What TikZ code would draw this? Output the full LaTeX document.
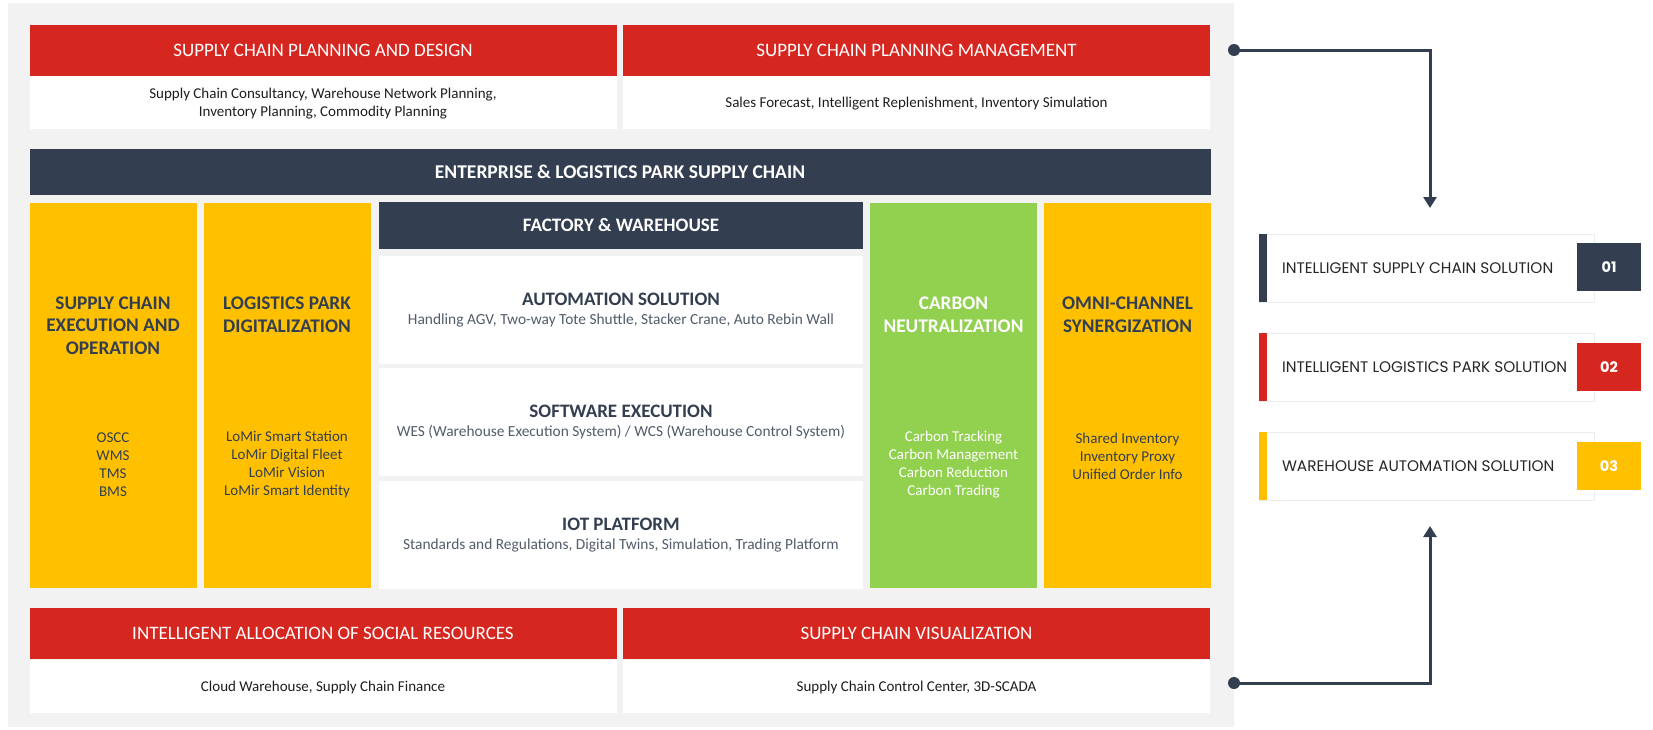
\documentclass[tikz,border=0pt]{standalone}
\usepackage{fontspec}
\setmainfont{Carlito}
\newfontfamily\tagfont{Poppins}
\usepackage{tikz}
\usetikzlibrary{shapes, arrows.meta, positioning}

\definecolor{scRed}{HTML}{D52620}
\definecolor{scDark}{HTML}{333F50}
\definecolor{scYellow}{HTML}{FFC000}
\definecolor{scGreen}{HTML}{92D050}
\definecolor{scGray}{HTML}{F2F2F2}
\definecolor{scText}{HTML}{1E1E1E}

\tikzstyle{box} = [rectangle, inner sep=0pt, outer sep=0pt, align=center]
\tikzstyle{head} = [box, fill=scRed, text=white, minimum width=587pt, minimum height=51pt, font=\fontsize{19}{22}\selectfont]
\tikzstyle{body} = [box, fill=white, text=scText, minimum width=587pt, minimum height=53pt, text depth=0pt, font=\fontsize{15}{18}\selectfont]
\tikzstyle{band} = [box, fill=scDark, text=white, font=\bfseries\fontsize{19.5}{22}\selectfont]
\tikzstyle{column} = [box, fill=scYellow, minimum width=167pt, minimum height=385pt]
\tikzstyle{coltitle} = [box, text=scDark, font=\bfseries\fontsize{19.3}{22.5}\selectfont]
\tikzstyle{colitems} = [box, text=scDark, font=\fontsize{15}{18}\selectfont]
\tikzstyle{layer} = [box, fill=white, minimum width=484pt, minimum height=108pt, text=scDark]
\tikzstyle{tag} = [box, fill=white, draw=black!7, line width=1pt, minimum width=335pt, minimum height=68pt]
\tikzstyle{tagtext} = [box, text=black!85, font=\tagfont\fontsize{15.3}{18}\selectfont]
\tikzstyle{num} = [box, text=white, minimum width=64pt, minimum height=48pt, font=\tagfont\bfseries\fontsize{14.5}{16}\selectfont]
\tikzstyle{link} = [draw=scDark, line width=3pt, -{Triangle[length=11pt, width=13pt]}]

\newcommand{\ltitle}[1]{{\bfseries\fontsize{19}{20}\selectfont #1}}
\newcommand{\lsub}[1]{{\color{scDark!85}\fontsize{15.4}{18}\selectfont #1}}

\begin{document}
\begin{tikzpicture}[x=1pt, y=-1pt]
  \useasboundingbox (0,0) rectangle (1653,729);
  \node[box, fill=scGray, minimum width=1226pt, minimum height=724pt] (panel) at (621,365) {};

  % planning
  \node[head] (plan) at (323,50.5) {SUPPLY CHAIN PLANNING AND DESIGN};
  \node[body] (plantxt) at (323,102) {Supply Chain Consultancy, Warehouse Network Planning,\\Inventory Planning, Commodity Planning};
  \node[head] (mgmt) at (916.5,50.5) {SUPPLY CHAIN PLANNING MANAGEMENT};
  \node[body] (mgmttxt) at (916.5,102) {Sales Forecast, Intelligent Replenishment, Inventory Simulation};

  % enterprise
  \node[band, minimum width=1181pt, minimum height=46pt] (ent) at (620,172) {ENTERPRISE \& LOGISTICS PARK SUPPLY CHAIN};

  % columns
  \node[column] (exec) at (113,395.5) {};
  \node[coltitle] (exect) at (113,325.5) {SUPPLY CHAIN\\EXECUTION AND\\OPERATION};
  \node[colitems] (execi) at (113,465) {OSCC\\WMS\\TMS\\BMS};

  \node[column] (park) at (287,395.5) {};
  \node[coltitle] (parkt) at (287,314.5) {LOGISTICS PARK\\DIGITALIZATION};
  \node[colitems] (parki) at (287,465) {LoMir Smart Station\\LoMir Digital Fleet\\LoMir Vision\\LoMir Smart Identity};

  \node[column, fill=scGreen] (carbon) at (953.5,395.5) {};
  \node[coltitle, text=white] (carbont) at (953.5,314.5) {CARBON\\NEUTRALIZATION};
  \node[colitems, text=white] (carboni) at (953.5,465) {Carbon Tracking\\Carbon Management\\Carbon Reduction\\Carbon Trading};

  \node[column] (omni) at (1127.5,395.5) {};
  \node[coltitle] (omnit) at (1127.5,314.5) {OMNI-CHANNEL\\SYNERGIZATION};
  \node[colitems] (omnii) at (1127.5,456) {Shared Inventory\\Inventory Proxy\\Unified Order Info};

  % factory
  \node[band, minimum width=484pt, minimum height=47pt, font=\bfseries\fontsize{19}{22}\selectfont] (fact) at (621,225.5) {FACTORY \& WAREHOUSE};
  \node[layer] (auto) at (621,310) {\ltitle{AUTOMATION SOLUTION}\\[6.5pt]\lsub{Handling AGV, Two-way Tote Shuttle, Stacker Crane, Auto Rebin Wall}};
  \node[layer] (soft) at (621,422) {\ltitle{SOFTWARE EXECUTION}\\[6.5pt]\lsub{WES (Warehouse Execution System) / WCS (Warehouse Control System)}};
  \node[layer] (iot) at (621,535) {\ltitle{IOT PLATFORM}\\[6.5pt]\lsub{Standards and Regulations, Digital Twins, Simulation, Trading Platform}};

  % resources
  \node[head] (alloc) at (323,633.5) {INTELLIGENT ALLOCATION OF SOCIAL RESOURCES};
  \node[body] (alloctxt) at (323,686) {Cloud Warehouse, Supply Chain Finance};
  \node[head] (vis) at (916.5,633.5) {SUPPLY CHAIN VISUALIZATION};
  \node[body] (vistxt) at (916.5,686) {Supply Chain Control Center, 3D-SCADA};

  % solutions
  \node[tag] (tag1) at (1426.5,268) {};
  \node[tag] (tag2) at (1426.5,367) {};
  \node[tag] (tag3) at (1426.5,466) {};
  \fill[scDark] (tag1.north west) rectangle ([xshift=8pt]tag1.south west);
  \fill[scRed] (tag2.north west) rectangle ([xshift=8pt]tag2.south west);
  \fill[scYellow] (tag3.north west) rectangle ([xshift=8pt]tag3.south west);
  \node[tagtext, anchor=west] (tag1txt) at (1282,268) {INTELLIGENT SUPPLY CHAIN SOLUTION};
  \node[tagtext, anchor=west] (tag2txt) at (1282,367) {INTELLIGENT LOGISTICS PARK SOLUTION};
  \node[tagtext, anchor=west] (tag3txt) at (1282,466) {WAREHOUSE AUTOMATION SOLUTION};
  \node[num, fill=scDark] (num1) at (1609,267) {01};
  \node[num, fill=scRed] (num2) at (1609,367) {02};
  \node[num, fill=scYellow] (num3) at (1609,466) {03};

  % links
  \coordinate (in1) at (1234,50);
  \coordinate (out1) at (1430,208);
  \coordinate (in2) at (1234,683);
  \coordinate (out2) at (1430,526);
  \draw[link] (in1) -| (out1);
  \draw[link] (in2) -| (out2);
  \fill[scDark] (in1) circle (6pt);
  \fill[scDark] (in2) circle (6pt);
\end{tikzpicture}
\end{document}
